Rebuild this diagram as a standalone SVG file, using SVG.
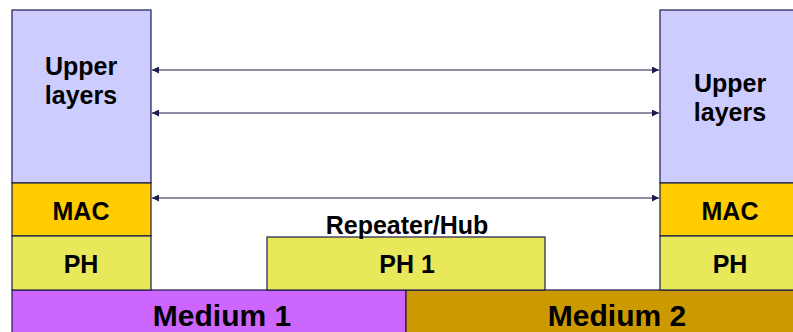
<svg xmlns="http://www.w3.org/2000/svg" width="793" height="332" viewBox="0 0 793 332">
<defs>
<style>
.b{stroke:#1c1c4c;stroke-width:1.2}
.t{font-family:"Liberation Sans",Arial,sans-serif;font-weight:bold;fill:#000;text-anchor:middle}
.s{font-size:25px}
.m{font-size:30px}
.c{stroke:#1c1c4c;stroke-width:1.2;fill:none;marker-start:url(#ah);marker-end:url(#ah)}
</style>
<marker id="ah" viewBox="0 0 10 10" refX="10" refY="5" markerWidth="9" markerHeight="7" orient="auto-start-reverse" markerUnits="userSpaceOnUse">
<path d="M0,0 L10,5 L0,10 Z" fill="#1c1c4c"/>
</marker>
</defs>
<rect width="793" height="332" fill="#fff"/>
<g id="medium1"><rect class="b" x="12" y="290" width="394" height="46" fill="#CC66FF"/><text class="t m" x="222" y="326">Medium 1</text></g>
<g id="medium2"><rect class="b" x="406" y="290" width="392" height="46" fill="#CC9900"/><text class="t m" x="617" y="326">Medium 2</text></g>
<g id="left-upper"><rect class="b" x="12" y="10" width="139" height="173" fill="#CCCCFF"/><text class="t s" x="81" y="75">Upper</text><text class="t s" x="81" y="104">layers</text></g>
<g id="left-mac"><rect class="b" x="12" y="183" width="139" height="53" fill="#FFCC00"/><text class="t s" x="81" y="220">MAC</text></g>
<g id="left-ph"><rect class="b" x="12" y="236" width="139" height="54" fill="#E8E85A"/><text class="t s" x="81" y="273">PH</text></g>
<g id="right-upper"><rect class="b" x="660" y="10" width="140" height="173" fill="#CCCCFF"/><text class="t s" x="730" y="92">Upper</text><text class="t s" x="730" y="121">layers</text></g>
<g id="right-mac"><rect class="b" x="660" y="183" width="140" height="53" fill="#FFCC00"/><text class="t s" x="730" y="220">MAC</text></g>
<g id="right-ph"><rect class="b" x="660" y="236" width="140" height="54" fill="#E8E85A"/><text class="t s" x="730" y="273">PH</text></g>
<g id="hub"><rect class="b" x="267" y="237" width="278" height="53" fill="#E8E85A"/><text class="t s" x="407" y="273">PH 1</text><text class="t s" x="407" y="234">Repeater/Hub</text></g>
<g id="connectors">
<line class="c" x1="152" y1="70" x2="659" y2="70"/>
<line class="c" x1="152" y1="113" x2="659" y2="113"/>
<line class="c" x1="152" y1="198" x2="659" y2="198"/>
</g>
</svg>
